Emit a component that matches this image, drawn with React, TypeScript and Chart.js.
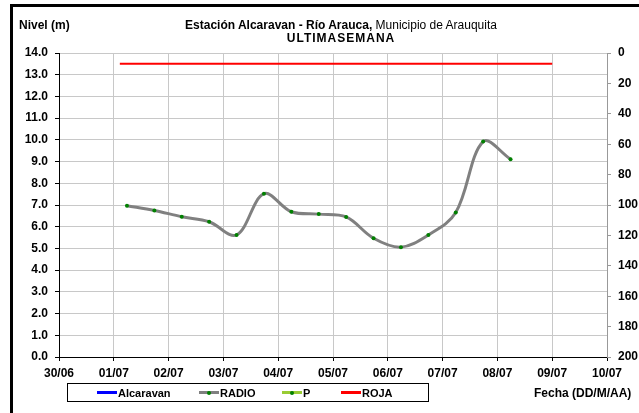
import React, { useEffect, useRef } from "react";
import { Chart, registerables } from "chart.js";

Chart.register(...registerables);

// ---- data ----
const dateLabels = ["30/06", "01/07", "02/07", "03/07", "04/07", "05/07", "06/07", "07/07", "08/07", "09/07", "10/07"];
// day offsets counted from 30/06 00:00
const radioDays = [1.24, 1.74, 2.24, 2.74, 3.24, 3.74, 4.24, 4.74, 5.24, 5.74, 6.24, 6.74, 7.24, 7.74, 8.24];
const radioLevels = [6.97, 6.75, 6.46, 6.23, 5.62, 7.52, 6.69, 6.58, 6.45, 5.47, 5.06, 5.62, 6.65, 9.92, 9.11];
const rojaDays = [1.11, 9.0];
const rojaLevels = [13.5, 13.5];
const alcaravanLevels: { x: number; y: number }[] = [];
const pValues: { x: number; y: number }[] = [];
const legendNames = ["Alcaravan", "RADIO", "P", "ROJA"];
const legendColors = ["#0000ff", "#808080", "#99cc33", "#ff0000"];
const legendMarkers = [false, true, true, false];

const FONT = "'Liberation Sans', Arial, sans-serif";

export default function App() {
  const ref = useRef<HTMLCanvasElement>(null);

  useEffect(() => {
    const tickFont = { family: FONT, size: 12, weight: "bold" as const };
    const chart = new Chart(ref.current!, {
      type: "line",
      data: {
        datasets: [
          { label: legendNames[0], data: alcaravanLevels, borderColor: legendColors[0], yAxisID: "y" },
          {
            label: legendNames[1],
            data: radioDays.map((x, i) => ({ x, y: radioLevels[i] })),
            borderColor: legendColors[1],
            borderWidth: 3,
            pointRadius: 2,
            pointBackgroundColor: "#008000",
            pointBorderColor: "#008000",
            pointBorderWidth: 0,
            tension: 0.35,
            yAxisID: "y",
          },
          { label: legendNames[2], data: pValues, borderColor: legendColors[2], yAxisID: "y1" },
          {
            label: legendNames[3],
            data: rojaDays.map((x, i) => ({ x, y: rojaLevels[i] })),
            borderColor: legendColors[3],
            borderWidth: 2,
            pointRadius: 0,
            tension: 0,
            yAxisID: "y",
          },
        ],
      },
      options: {
        animation: false,
        responsive: false,
        maintainAspectRatio: false,
        layout: { padding: { top: 53, left: 0, right: 0, bottom: 0 } },
        plugins: { legend: { display: false }, tooltip: { enabled: false }, title: { display: false } },
        scales: {
          x: {
            type: "linear",
            min: 0,
            max: 10,
            ticks: {
              stepSize: 1,
              autoSkip: false,
              maxRotation: 0,
              padding: 5,
              color: "#000",
              font: tickFont,
              callback: (v: any) => dateLabels[Math.round(Number(v))] ?? "",
            },
            grid: { color: "#c8c8c8", tickColor: "#000", tickLength: 4, lineWidth: 1 },
            border: { color: "#000", width: 1 },
            afterFit: (s: any) => {
              s.height = 56;
            },
          },
          y: {
            position: "left",
            min: 0,
            max: 14,
            ticks: {
              stepSize: 1,
              padding: 7,
              color: "#000",
              font: tickFont,
              callback: (v: any) => Number(v).toFixed(1),
            },
            grid: { color: "#c8c8c8", tickColor: "#000", tickLength: 4, lineWidth: 1 },
            border: { color: "#000", width: 1 },
            afterFit: (s: any) => {
              s.width = 59;
            },
          },
          y1: {
            position: "right",
            reverse: true,
            min: 0,
            max: 200,
            ticks: { stepSize: 20, padding: 7, color: "#000", font: tickFont },
            grid: { drawOnChartArea: false, tickColor: "#999", tickLength: 4 },
            border: { color: "#999", width: 1 },
            afterFit: (s: any) => {
              s.width = 32;
            },
          },
        },
      },
    });
    return () => chart.destroy();
  }, []);

  const legendLeft = [97, 199, 282, 341];

  return (
    <div style={{ position: "absolute", left: 0, top: 0, width: 639, height: 413, overflow: "hidden", background: "#fff", fontFamily: FONT }}>
      <canvas ref={ref} width={639} height={413} style={{ position: "absolute", left: 0, top: 0, display: "block" }} />
      <div style={{ position: "absolute", left: 10, top: 4, width: 700, height: 500, borderLeft: "3px solid #000", borderTop: "3px solid #000" }} />
      <div style={{ position: "absolute", left: 19, top: 19, fontSize: 12, fontWeight: "bold", lineHeight: "13px", whiteSpace: "nowrap" }}>Nivel (m)</div>
      <div style={{ position: "absolute", left: 141, width: 400, top: 19, fontSize: 12, lineHeight: "13px", textAlign: "center", whiteSpace: "nowrap" }}>
        <div>
          <b>Estación Alcaravan - Río Arauca,</b> Municipio de Arauquita
        </div>
        <div style={{ fontWeight: "bold", letterSpacing: 1 }}>ULTIMASEMANA</div>
      </div>
      <div style={{ position: "absolute", left: 67, top: 383, width: 362, height: 19, border: "1px solid #000", boxSizing: "border-box" }} />
      {legendNames.map((name, i) => (
        <div key={name} style={{ position: "absolute", left: legendLeft[i], top: 386, height: 13, display: "flex", alignItems: "center", whiteSpace: "nowrap" }}>
          <div style={{ position: "relative", width: 20, height: 3, background: legendColors[i], marginRight: 1 }}>
            {legendMarkers[i] && (
              <div style={{ position: "absolute", left: 8, top: -0.5, width: 4, height: 4, borderRadius: 2, background: "#008000" }} />
            )}
          </div>
          <span style={{ fontSize: 11, fontWeight: "bold" }}>{name}</span>
        </div>
      ))}
      <div style={{ position: "absolute", left: 534, top: 386, fontSize: 12, fontWeight: "bold", whiteSpace: "nowrap" }}>Fecha (DD/M/AA)</div>
    </div>
  );
}
